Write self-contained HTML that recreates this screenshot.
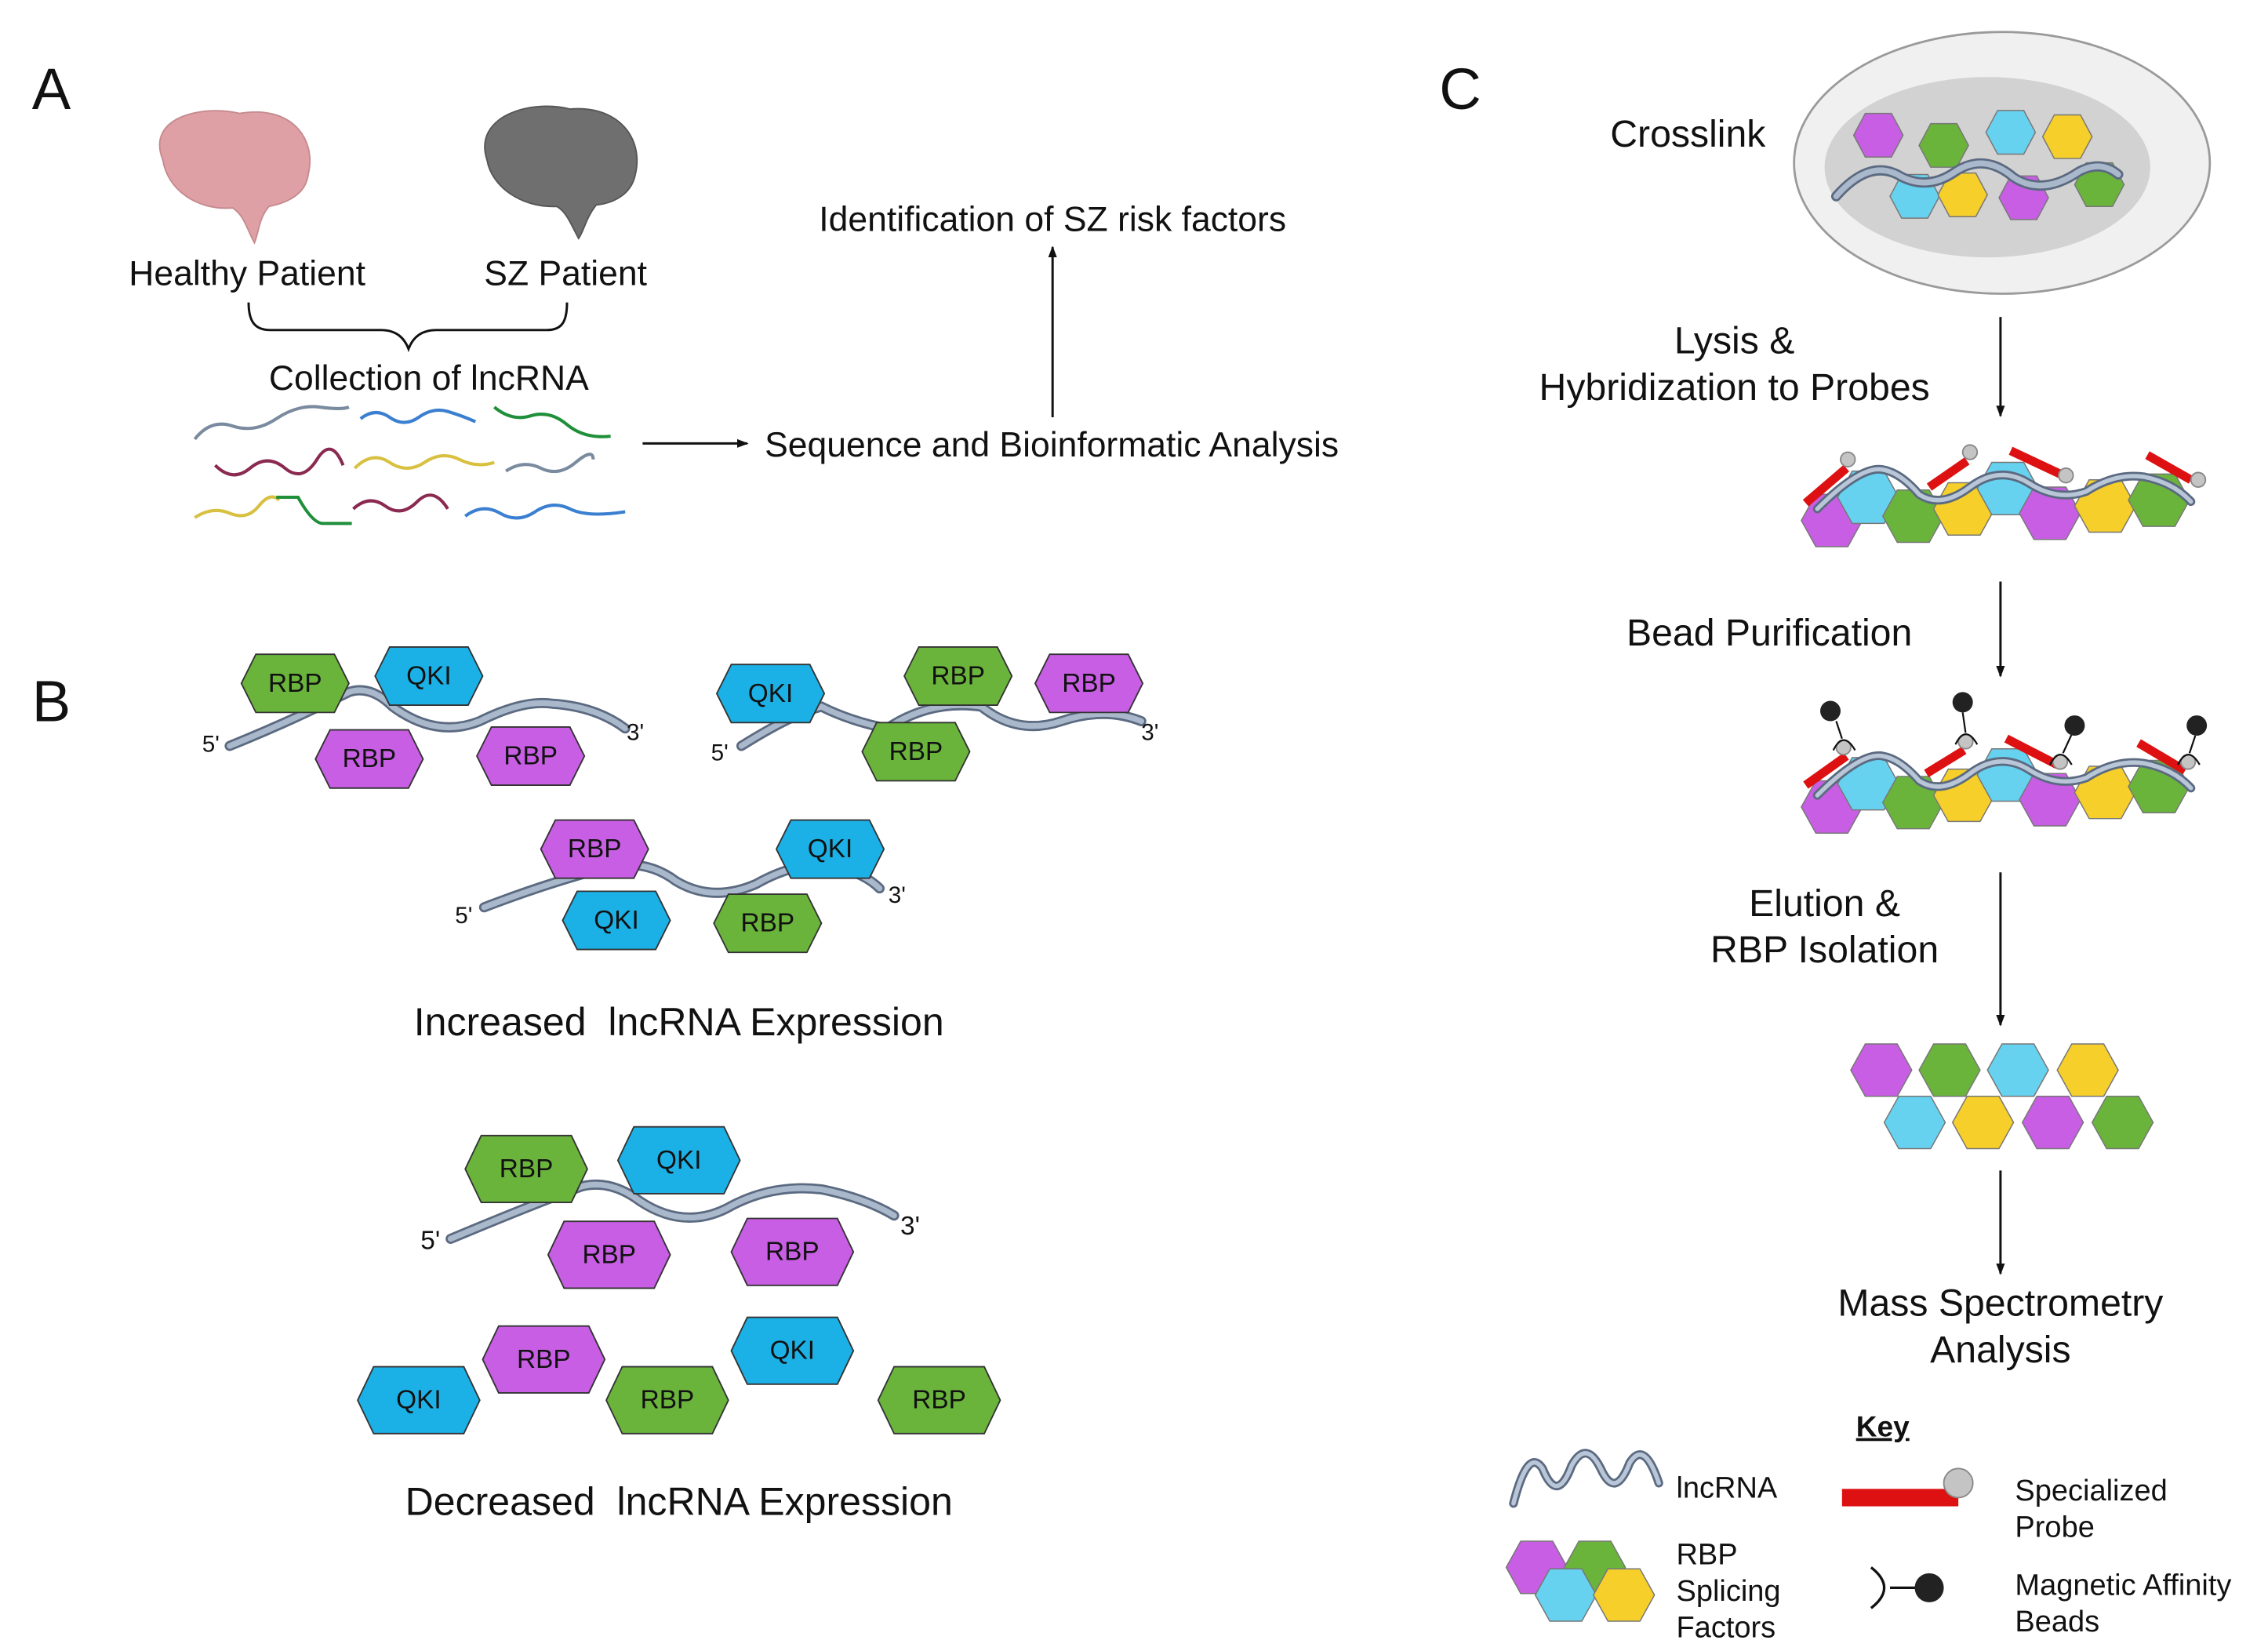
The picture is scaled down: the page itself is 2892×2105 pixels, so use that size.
<!DOCTYPE html>
<html><head><meta charset="utf-8"><style>
html,body{margin:0;padding:0;background:#fff}
svg{display:block}
text{font-family:"Liberation Sans",Arial,sans-serif;fill:#111}
</style></head><body>
<svg width="2892" height="2105" viewBox="0 0 1560 1135.5" preserveAspectRatio="none" xmlns="http://www.w3.org/2000/svg">
<defs>
<polygon id="hx" points="-37,0 -27,-20 27,-20 37,0 27,20 -27,20" stroke="#333" stroke-width="1"/>
<polygon id="hxL" points="-42,0 -31,-23 31,-23 42,0 31,23 -31,23" stroke="#333" stroke-width="1"/>
<polygon id="hs" points="-17,0 -9,-15 9,-15 17,0 9,15 -9,15" stroke="#777" stroke-width="0.8"/>
<polygon id="hm" points="-21,0 -11,-18 11,-18 21,0 11,18 -11,18" stroke="#777" stroke-width="0.8"/>
<marker id="ar" markerWidth="8" markerHeight="8" refX="7" refY="4" orient="auto" markerUnits="userSpaceOnUse"><path d="M0,1 L8,4 L0,7 Z" fill="#111"/></marker>
</defs>
<style>
.g{fill:#6ab43c}.b{fill:#1cb1e6}.m{fill:#c85ee4}.y{fill:#f6cf2a}.c{fill:#66d2f0}
.rna{fill:none;stroke:#5b6a80;stroke-width:7;stroke-linecap:round}
.rna2{fill:none;stroke:#aab8cc;stroke-width:4;stroke-linecap:round}
.hl{font-size:18px;text-anchor:middle;dominant-baseline:central}
.ar{stroke:#111;stroke-width:1.6;marker-end:url(#ar)}
</style>

<!-- Panel A -->
<text x="22" y="75" font-size="40">A</text>
<path d="M112,110 C100,80 140,72 165,78 C200,72 218,95 212,120 C210,135 195,140 185,142 C178,150 178,160 175,167 C170,158 168,148 160,143 C135,145 115,130 112,110Z" fill="#dea0a4" stroke="#c58a8e"/>
<path d="M335,110 C325,80 365,68 392,75 C425,72 443,95 437,120 C434,135 420,140 410,141 C403,150 402,158 398,164 C393,155 390,146 383,142 C358,143 338,128 335,110Z" fill="#6f6f6f" stroke="#555"/>
<text x="170" y="196" font-size="24" text-anchor="middle">Healthy Patient</text>
<text x="389" y="196" font-size="24" text-anchor="middle">SZ Patient</text>
<path d="M171,208 C171,222 176,227 186,227 L262,227 C272,227 278,232 281,240 C284,232 290,227 300,227 L376,227 C386,227 390,222 390,208" fill="none" stroke="#111" stroke-width="1.6"/>
<text x="295" y="268" font-size="24" text-anchor="middle">Collection of lncRNA</text>
<g fill="none" stroke-width="2.2">
<path d="M134,302 Q145,288 160,293 T190,288 T220,280 T240,280" stroke="#7a8a9f"/>
<path d="M248,288 Q258,280 268,287 T288,287 T308,283 T327,290" stroke="#3a7fd0"/>
<path d="M340,280 Q352,290 365,286 T390,292 T420,300" stroke="#1f8f3a"/>
<path d="M148,320 Q160,332 172,322 T196,322 T218,316 T236,320" stroke="#8a2a50"/>
<path d="M244,322 Q256,310 268,318 T292,318 T316,316 T340,318" stroke="#d8c040"/>
<path d="M348,324 Q360,316 372,322 T396,318 T408,316" stroke="#7a8a9f"/>
<path d="M134,356 Q146,348 158,353 T178,348 T192,344" stroke="#d8c040"/>
<path d="M190,342 L205,342 Q215,360 222,360 L242,360" stroke="#1f8f3a"/>
<path d="M243,350 Q254,340 265,348 T287,345 T308,350" stroke="#8a2a50"/>
<path d="M320,355 Q332,346 344,353 T368,352 T392,350 T430,352" stroke="#3a7fd0"/>
</g>
<line x1="442" y1="305" x2="514" y2="305" class="ar"/>
<text x="526" y="314" font-size="24">Sequence and Bioinformatic Analysis</text>
<line x1="724" y1="287" x2="724" y2="170" class="ar"/>
<text x="724" y="159" font-size="24" text-anchor="middle">Identification of SZ risk factors</text>

<!-- Panel B -->
<g transform="translate(0,-4)">
<text x="22" y="500" font-size="40">B</text>
<g>
<path d="M158,517 Q200,500 240,480 Q255,475 270,490 Q300,512 330,500 Q360,485 380,488 Q410,490 430,505" class="rna"/>
<path d="M158,517 Q200,500 240,480 Q255,475 270,490 Q300,512 330,500 Q360,485 380,488 Q410,490 430,505" class="rna2"/>
<use href="#hx" x="203" y="474" class="g"/><text x="203" y="474" class="hl">RBP</text>
<use href="#hx" x="295" y="469" class="b"/><text x="295" y="469" class="hl">QKI</text>
<use href="#hx" x="254" y="526" class="m"/><text x="254" y="526" class="hl">RBP</text>
<use href="#hx" x="365" y="524" class="m"/><text x="365" y="524" class="hl">RBP</text>
<text x="145" y="521" font-size="16" text-anchor="middle">5'</text><text x="437" y="513" font-size="16" text-anchor="middle">3'</text>
</g>
<g>
<path d="M510,517 Q545,495 565,490 Q585,500 610,505 Q640,485 675,490 Q700,510 730,500 Q760,490 785,500" class="rna"/>
<path d="M510,517 Q545,495 565,490 Q585,500 610,505 Q640,485 675,490 Q700,510 730,500 Q760,490 785,500" class="rna2"/>
<use href="#hx" x="530" y="481" class="b"/><text x="530" y="481" class="hl">QKI</text>
<use href="#hx" x="659" y="469" class="g"/><text x="659" y="469" class="hl">RBP</text>
<use href="#hx" x="749" y="474" class="m"/><text x="749" y="474" class="hl">RBP</text>
<use href="#hx" x="630" y="521" class="g"/><text x="630" y="521" class="hl">RBP</text>
<text x="495" y="527" font-size="16" text-anchor="middle">5'</text><text x="791" y="513" font-size="16" text-anchor="middle">3'</text>
</g>
<g>
<path d="M333,628 Q380,610 420,600 Q445,595 465,610 Q490,625 520,612 Q550,595 575,600 Q595,605 605,615" class="rna"/>
<path d="M333,628 Q380,610 420,600 Q445,595 465,610 Q490,625 520,612 Q550,595 575,600 Q595,605 605,615" class="rna2"/>
<use href="#hx" x="409" y="588" class="m"/><text x="409" y="588" class="hl">RBP</text>
<use href="#hx" x="571" y="588" class="b"/><text x="571" y="588" class="hl">QKI</text>
<use href="#hx" x="424" y="637" class="b"/><text x="424" y="637" class="hl">QKI</text>
<use href="#hx" x="528" y="639" class="g"/><text x="528" y="639" class="hl">RBP</text>
<text x="319" y="639" font-size="16" text-anchor="middle">5'</text><text x="617" y="625" font-size="16" text-anchor="middle">3'</text>
</g>
<text x="467" y="716" font-size="27" text-anchor="middle">Increased&#160; lncRNA Expression</text>
<g>
<path d="M310,856 Q360,835 400,820 Q420,815 440,830 Q470,850 500,835 Q530,818 565,822 Q595,828 615,840" class="rna"/>
<path d="M310,856 Q360,835 400,820 Q420,815 440,830 Q470,850 500,835 Q530,818 565,822 Q595,828 615,840" class="rna2"/>
<use href="#hxL" x="362" y="808" class="g"/><text x="362" y="808" class="hl" font-size="20">RBP</text>
<use href="#hxL" x="467" y="802" class="b"/><text x="467" y="802" class="hl" font-size="20">QKI</text>
<use href="#hxL" x="419" y="867" class="m"/><text x="419" y="867" class="hl" font-size="20">RBP</text>
<use href="#hxL" x="545" y="865" class="m"/><text x="545" y="865" class="hl" font-size="20">RBP</text>
<text x="296" y="863" font-size="18" text-anchor="middle">5'</text><text x="626" y="853" font-size="18" text-anchor="middle">3'</text>
</g>
<use href="#hxL" x="288" y="967" class="b"/><text x="288" y="967" class="hl" font-size="20">QKI</text>
<use href="#hxL" x="374" y="939" class="m"/><text x="374" y="939" class="hl" font-size="20">RBP</text>
<use href="#hxL" x="459" y="967" class="g"/><text x="459" y="967" class="hl" font-size="20">RBP</text>
<use href="#hxL" x="545" y="933" class="b"/><text x="545" y="933" class="hl" font-size="20">QKI</text>
<use href="#hxL" x="646" y="967" class="g"/><text x="646" y="967" class="hl" font-size="20">RBP</text>
<text x="467" y="1046" font-size="27" text-anchor="middle">Decreased&#160; lncRNA Expression</text>
</g>

<!-- Panel C -->
<g transform="translate(-5,0)">
<text x="995" y="75" font-size="40">C</text>
<ellipse cx="1382" cy="112" rx="143" ry="90" fill="#f0f0f0" stroke="#9a9a9a" stroke-width="1.5"/>
<ellipse cx="1372" cy="115" rx="112" ry="62" fill="#d2d2d2"/>
<use href="#hs" x="1297" y="93" class="m"/><use href="#hs" x="1342" y="100" class="g"/><use href="#hs" x="1388" y="91" class="c"/><use href="#hs" x="1427" y="94" class="y"/>
<use href="#hs" x="1322" y="135" class="c"/><use href="#hs" x="1355" y="134" class="y"/><use href="#hs" x="1397" y="136" class="m"/><use href="#hs" x="1449" y="127" class="g"/>
<path d="M1268,135 Q1290,110 1310,120 Q1330,132 1350,118 Q1370,105 1390,122 Q1410,135 1435,118 Q1450,110 1462,120" class="rna"/>
<path d="M1268,135 Q1290,110 1310,120 Q1330,132 1350,118 Q1370,105 1390,122 Q1410,135 1435,118 Q1450,110 1462,120" class="rna2"/>
<text x="1166" y="101" font-size="26" text-anchor="middle">Crosslink</text>
<line x1="1381" y1="218" x2="1381" y2="286" class="ar"/>
<text x="1198" y="243" font-size="26" text-anchor="middle">Lysis &amp;</text>
<text x="1198" y="275" font-size="26" text-anchor="middle">Hybridization to Probes</text>

<g id="cx1">
<use href="#hm" x="1265" y="358" class="m"/><use href="#hm" x="1290" y="342" class="c"/><use href="#hm" x="1321" y="355" class="g"/><use href="#hm" x="1356" y="350" class="y"/><use href="#hm" x="1386" y="336" class="c"/><use href="#hm" x="1415" y="353" class="m"/><use href="#hm" x="1453" y="348" class="y"/><use href="#hm" x="1490" y="344" class="g"/>
<path d="M1255,350 Q1285,320 1300,323 Q1312,325 1325,340 Q1340,350 1360,335 Q1380,320 1400,332 Q1420,345 1440,338 Q1460,325 1480,328 Q1500,332 1512,345" fill="none" stroke="#5b6a80" stroke-width="6" stroke-linecap="round"/>
<path d="M1255,350 Q1285,320 1300,323 Q1312,325 1325,340 Q1340,350 1360,335 Q1380,320 1400,332 Q1420,345 1440,338 Q1460,325 1480,328 Q1500,332 1512,345" fill="none" stroke="#b8c6d8" stroke-width="3" stroke-linecap="round"/>
</g>
<g stroke="#dd1111" stroke-width="6">
<line x1="1247" y1="346" x2="1275" y2="322"/><line x1="1332" y1="335" x2="1358" y2="317"/><line x1="1388" y1="310" x2="1422" y2="326"/><line x1="1482" y1="313" x2="1512" y2="330"/>
</g>
<g fill="#c4c4c4" stroke="#888"><circle cx="1276" cy="316" r="5"/><circle cx="1360" cy="311" r="5"/><circle cx="1426" cy="327" r="5"/><circle cx="1517" cy="330" r="5"/></g>

<line x1="1381" y1="400" x2="1381" y2="465" class="ar"/>
<text x="1222" y="444" font-size="26" text-anchor="middle">Bead Purification</text>

<use href="#cx1" y="197"/>
<g stroke="#dd1111" stroke-width="6">
<line x1="1247" y1="540" x2="1275" y2="520"/><line x1="1330" y1="532" x2="1356" y2="516"/><line x1="1385" y1="508" x2="1420" y2="526"/><line x1="1476" y1="511" x2="1508" y2="530"/>
</g>
<g fill="#c4c4c4" stroke="#888"><circle cx="1273" cy="514" r="5"/><circle cx="1357" cy="510" r="5"/><circle cx="1422" cy="524" r="5"/><circle cx="1510" cy="524" r="5"/></g>
<g fill="none" stroke="#111" stroke-width="1.2">
<path d="M1266,516 Q1273,502 1281,516"/><path d="M1350,512 Q1357,498 1365,512"/><path d="M1415,526 Q1422,512 1430,526"/><path d="M1503,526 Q1510,512 1518,526"/>
<line x1="1268" y1="496" x2="1272" y2="508"/><line x1="1355" y1="490" x2="1357" y2="504"/><line x1="1430" y1="505" x2="1424" y2="518"/><line x1="1515" y1="506" x2="1511" y2="518"/>
</g>
<g fill="#222"><circle cx="1264" cy="489" r="7"/><circle cx="1355" cy="483" r="7"/><circle cx="1432" cy="499" r="7"/><circle cx="1516" cy="499" r="7"/></g>

<line x1="1381" y1="600" x2="1381" y2="705" class="ar"/>
<text x="1260" y="630" font-size="26" text-anchor="middle">Elution &amp;</text>
<text x="1260" y="662" font-size="26" text-anchor="middle">RBP Isolation</text>
<use href="#hm" x="1299" y="736" class="m"/><use href="#hm" x="1346" y="736" class="g"/><use href="#hm" x="1393" y="736" class="c"/><use href="#hm" x="1441" y="736" class="y"/>
<use href="#hm" x="1322" y="772" class="c"/><use href="#hm" x="1369" y="772" class="y"/><use href="#hm" x="1417" y="772" class="m"/><use href="#hm" x="1465" y="772" class="g"/>
<line x1="1381" y1="805" x2="1381" y2="876" class="ar"/>
<text x="1381" y="905" font-size="26" text-anchor="middle">Mass Spectrometry</text>
<text x="1381" y="937" font-size="26" text-anchor="middle">Analysis</text>

<!-- Key -->
<text x="1300" y="988" font-size="20" font-weight="bold" text-anchor="middle" text-decoration="underline">Key</text>
<path d="M1046,1034 Q1056,995 1066,1010 Q1076,1035 1086,1008 Q1096,990 1106,1010 Q1116,1032 1126,1006 Q1136,990 1146,1020" fill="none" stroke="#5b6a80" stroke-width="6" stroke-linecap="round"/>
<path d="M1046,1034 Q1056,995 1066,1010 Q1076,1035 1086,1008 Q1096,990 1106,1010 Q1116,1032 1126,1006 Q1136,990 1146,1020" fill="none" stroke="#b8c6d8" stroke-width="3" stroke-linecap="round"/>
<text x="1158" y="1030" font-size="20.5">lncRNA</text>
<use href="#hm" x="1062" y="1078" class="m"/><use href="#hm" x="1102" y="1078" class="g"/><use href="#hm" x="1082" y="1097" class="c"/><use href="#hm" x="1122" y="1097" class="y"/>
<text x="1158" y="1076" font-size="20.5">RBP</text>
<text x="1158" y="1101" font-size="20.5">Splicing</text>
<text x="1158" y="1126" font-size="20.5">Factors</text>
<rect x="1272" y="1024" width="80" height="12" fill="#dd1111"/>
<circle cx="1352" cy="1020" r="10" fill="#c4c4c4" stroke="#888"/>
<text x="1391" y="1032" font-size="20.5">Specialized</text>
<text x="1391" y="1057" font-size="20.5">Probe</text>
<path d="M1292,1078 Q1310,1092 1292,1106" fill="none" stroke="#111" stroke-width="1.8"/>
<line x1="1305" y1="1092" x2="1325" y2="1092" stroke="#111" stroke-width="1.8"/>
<circle cx="1332" cy="1092" r="10" fill="#222"/>
<text x="1391" y="1097" font-size="20.5">Magnetic Affinity</text>
<text x="1391" y="1122" font-size="20.5">Beads</text>
</g>
</svg>
</body></html>
